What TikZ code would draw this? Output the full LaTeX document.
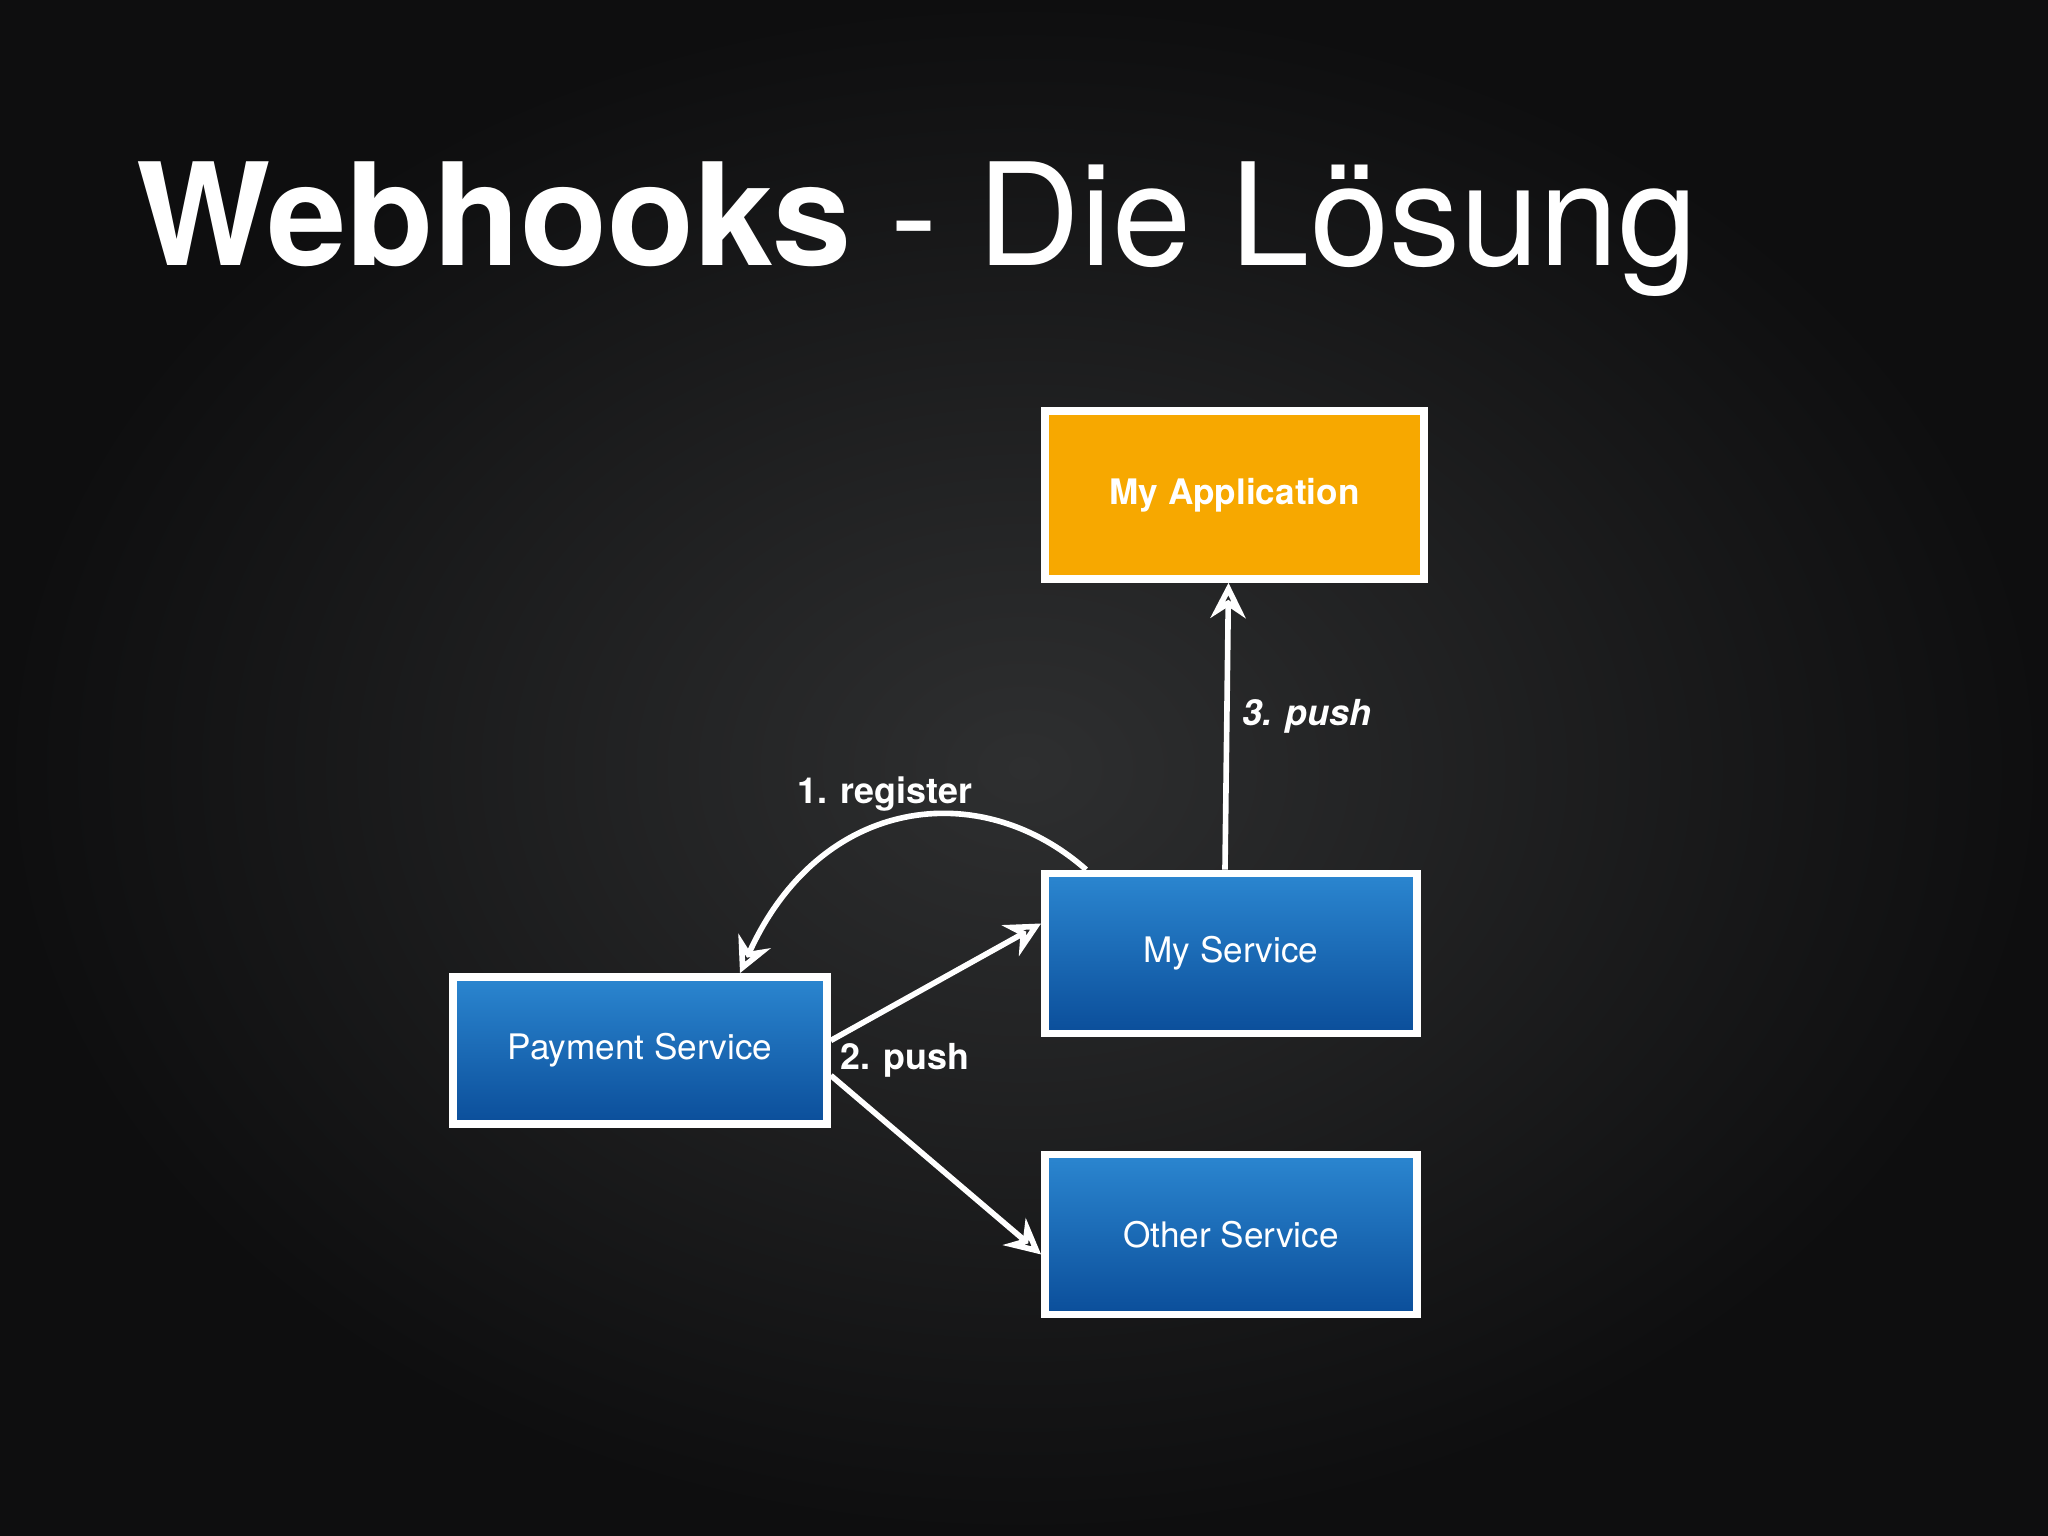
\documentclass[tikz,border=0pt]{standalone}
\usepackage{fontspec}
\setmainfont{TeX Gyre Heros}
\usetikzlibrary{arrows.meta}
\definecolor{bgin}{HTML}{2E2F30}
\definecolor{bgout}{HTML}{0E0E0F}
\definecolor{btop}{HTML}{2B86D0}
\definecolor{bbot}{HTML}{0B4E9A}
\definecolor{orng}{HTML}{F7A800}
\tikzset{
 svc/.style={draw=white,line width=2.2pt,top color=btop,bottom color=bbot,minimum width=3.72cm,minimum height=1.6cm,text=white,font=\fontsize{10}{12}\selectfont},
 app/.style={draw=white,line width=2.2pt,fill=orng,minimum width=3.79cm,minimum height=1.68cm,text=white,font=\bfseries\fontsize{10}{12}\selectfont},
 arr/.style={draw=white,line width=1.6pt,-{Stealth[length=10pt,width=10pt,open]}},
 lbl/.style={text=white,font=\bfseries\fontsize{10.2}{12}\selectfont}
}
\begin{document}
\begin{tikzpicture}
\path[inner color=bgin,outer color=bgout] (0,0) rectangle (20.48,15.36);
\useasboundingbox (0,0) rectangle (20.48,15.36);
\node[anchor=base west,text=white,inner sep=0] (title) at (1.36,12.7) {\fontsize{40.5}{48}\selectfont\textbf{Webhooks} - Die Lösung};
\node[app] (app) at (12.345,10.41) {My Application};
\node[svc] (my) at (12.31,5.825) {My Service};
\node[svc,minimum width=3.74cm,minimum height=1.47cm] (pay) at (6.40,4.855) {Payment Service};
\node[svc] (oth) at (12.31,3.015) {Other Service};
\draw[arr] ([xshift=-0.06cm]my.north) -- ([xshift=-0.06cm]app.south);
\node[lbl,anchor=west] (l3) at (12.3,8.20) {\itshape 3. push};
\draw[arr] ([xshift=0.45cm]my.north west) .. controls (9.8,7.6) and (8.2,7.4) .. ([xshift=1.0cm]pay.north);
\node[lbl] (l1) at (8.85,7.42) {1. register};
\draw[arr] ([yshift=0.1cm]pay.east) -- ([yshift=0.3cm]my.west);
\draw[arr] ([yshift=-0.25cm]pay.east) -- ([yshift=-0.2cm]oth.west);
\node[lbl] (l2) at (9.05,4.76) {2. push};
\end{tikzpicture}
\end{document}
